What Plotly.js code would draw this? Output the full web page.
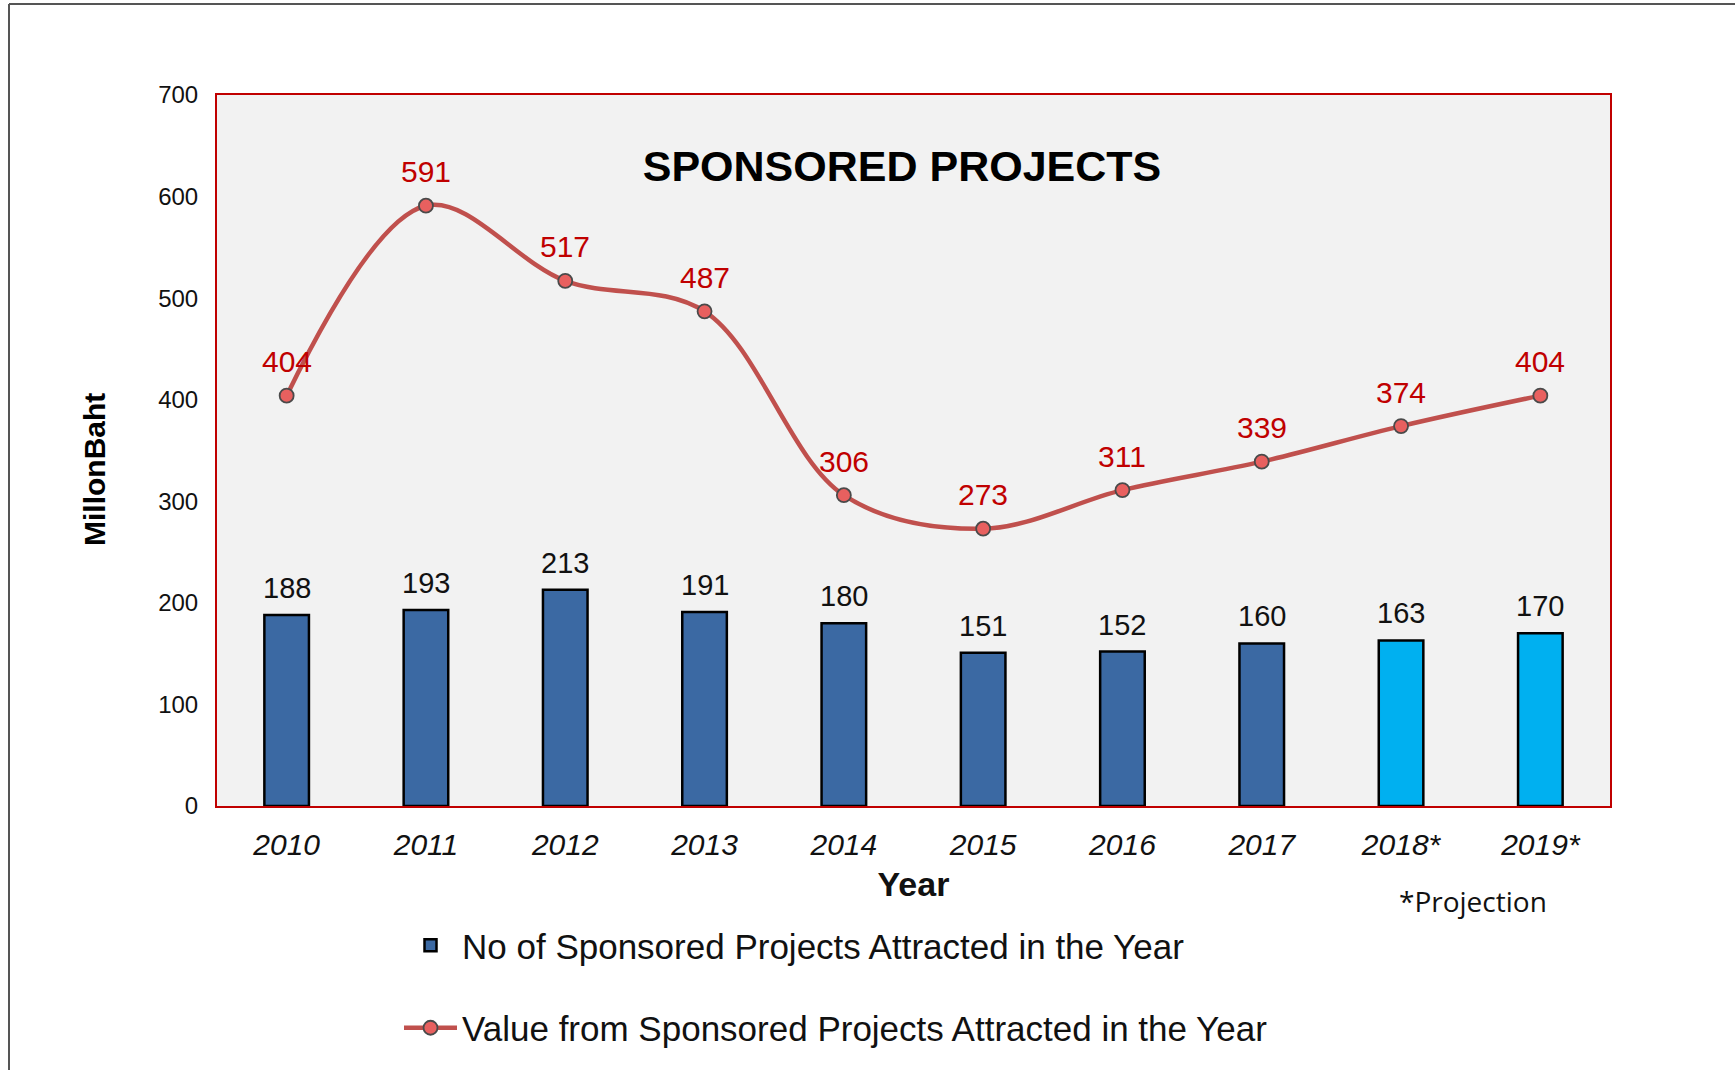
<!DOCTYPE html>
<html>
<head>
<meta charset="utf-8">
<script src="https://cdn.plot.ly/plotly-3.0.1.min.js"></script>
<style>
  html, body { margin: 0; padding: 0; background: #ffffff; }
  #chart { width: 1735px; height: 1070px; }
</style>
</head>
<body>
<div id="chart"></div>
<script>
// ---- data ----
const years = ['2010', '2011', '2012', '2013', '2014', '2015', '2016', '2017', '2018*', '2019*'];
const projectCounts = [188, 193, 213, 191, 180, 151, 152, 160, 163, 170];
const projectValues = [404, 591, 517, 487, 306, 273, 311, 339, 374, 404];
const yTickValues = [0, 100, 200, 300, 400, 500, 600, 700];

const barName = 'No of Sponsored Projects Attracted in the Year';
const lineName = 'Value from Sponsored Projects Attracted in the Year';
const chartTitle = 'SPONSORED PROJECTS';
const yTitle = 'MillonBaht';
const xTitle = 'Year';
const noteText = '*Projection';

// ---- styles ----
const ARIAL = 'Liberation Sans, Arial, sans-serif';
const BLUE = '#3B69A3';
const CYAN = '#00B0F0';
const RED_TEXT = '#C00000';
const barColors = years.map(y => y.endsWith('*') ? CYAN : BLUE);

const bars = {
  type: 'bar',
  name: barName,
  legendgroup: 'bars',
  x: years,
  y: projectCounts,
  width: 0.32,
  marker: { color: barColors, line: { color: '#000000', width: 2.5 } },
  hoverinfo: 'x+y'
};

const line = {
  type: 'scatter',
  mode: 'lines+markers',
  name: lineName,
  legendgroup: 'line',
  x: years,
  y: projectValues,
  line: { color: '#C0504D', width: 4.5, shape: 'spline', smoothing: 1 },
  marker: { size: 14, color: '#E8605F', line: { color: '#4a4a4a', width: 1.8 } },
  cliponaxis: false,
  hoverinfo: 'x+y'
};

// data labels, anchored to data coordinates through the category axis (index positions)
const barLabels = years.map((yr, i) => ({
  x: i, y: projectCounts[i], xref: 'x', yref: 'y',
  text: String(projectCounts[i]),
  showarrow: false, yanchor: 'middle', xanchor: 'center', yshift: 27,
  font: { family: ARIAL, size: 29, color: '#111111' }
}));
const lineLabels = years.map((yr, i) => ({
  x: i, y: projectValues[i], xref: 'x', yref: 'y',
  text: String(projectValues[i]),
  showarrow: false, yanchor: 'middle', xanchor: 'center', yshift: 34,
  font: { family: ARIAL, size: 30, color: RED_TEXT }
}));

const ML = 217, MR = 125, MT = 95, MB = 264;
const plotW = 1735 - ML - MR;
const plotH = 1070 - MT - MB;
const px2x = px => (px - ML) / plotW;
const px2y = py => (1070 - MB - py) / plotH;

const layout = {
  width: 1735,
  height: 1070,
  margin: { l: ML, r: MR, t: MT, b: MB },
  paper_bgcolor: '#ffffff',
  plot_bgcolor: '#F2F2F2',
  font: { family: ARIAL, color: '#111111' },
  showlegend: true,
  title: {
    text: '<b>' + chartTitle + '</b>',
    font: { family: ARIAL, size: 43, color: '#000000' },
    xref: 'paper', yref: 'paper',
    x: px2x(902), xanchor: 'center',
    y: px2y(166), yanchor: 'middle'
  },
  xaxis: {
    type: 'category',
    range: [-0.5, years.length - 0.5],
    showgrid: false,
    zeroline: false,
    showline: true,
    linecolor: '#C00000',
    linewidth: 2,
    mirror: true,
    ticks: '',
    ticklabelstandoff: 11,
    tickfont: { family: ARIAL, size: 30, color: '#111111', style: 'italic' },
    title: {
      text: '<b>' + xTitle + '</b>',
      font: { family: ARIAL, size: 34, color: '#111111' },
      standoff: 12
    },
    fixedrange: true
  },
  yaxis: {
    range: [0, 700],
    tickvals: yTickValues,
    showgrid: false,
    zeroline: false,
    showline: true,
    linecolor: '#C00000',
    linewidth: 2,
    mirror: true,
    ticks: '',
    ticklabelstandoff: 12,
    tickfont: { family: ARIAL, size: 24, color: '#111111' },
    fixedrange: true
  },
  legend: {
    x: px2x(399), xanchor: 'left',
    y: px2y(916), yanchor: 'top',
    xref: 'paper', yref: 'paper',
    orientation: 'v',
    traceorder: 'grouped',
    tracegroupgap: 34,
    bgcolor: 'rgba(0,0,0,0)',
    font: { family: ARIAL, size: 35, color: '#111111' },
    itemwidth: 53
  },
  annotations: [
    {
      text: '<b>' + yTitle + '</b>',
      xref: 'paper', yref: 'paper',
      x: px2x(94), y: px2y(470),
      xanchor: 'center', yanchor: 'middle',
      textangle: -90,
      showarrow: false,
      font: { family: ARIAL, size: 30, color: '#000000' }
    },
    {
      text: noteText,
      xref: 'paper', yref: 'paper',
      x: px2x(1473), y: px2y(901),
      xanchor: 'center', yanchor: 'middle',
      showarrow: false,
      font: { family: 'Open Sans, Noto Sans, sans-serif', size: 28, color: '#111111' }
    }
  ].concat(barLabels, lineLabels),
  shapes: [
    { type: 'line', xref: 'paper', yref: 'paper', x0: px2x(9), x1: px2x(1735), y0: px2y(4), y1: px2y(4), line: { color: '#555555', width: 2 } },
    { type: 'line', xref: 'paper', yref: 'paper', x0: px2x(9), x1: px2x(9), y0: px2y(4), y1: px2y(1070), line: { color: '#555555', width: 2 } }
  ]
};

Plotly.newPlot('chart', [bars, line], layout, { staticPlot: true, displayModeBar: false });
</script>
</body>
</html>
